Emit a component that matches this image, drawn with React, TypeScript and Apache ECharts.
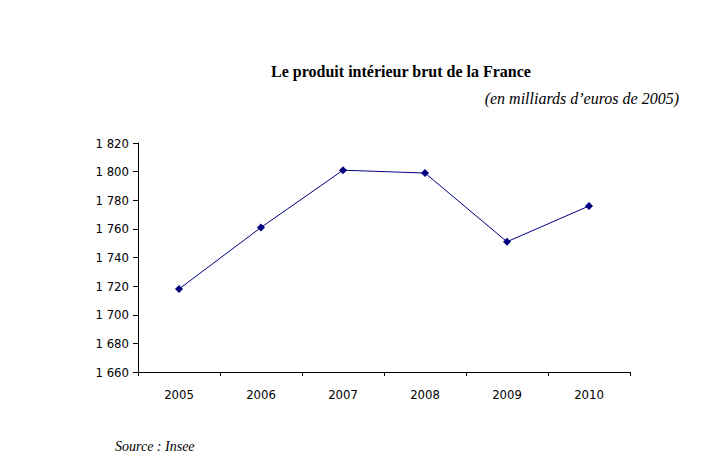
import React, { useEffect, useRef } from "react";
import * as echarts from "echarts";

const years = ["2005", "2006", "2007", "2008", "2009", "2010"];
const gdp = [1718, 1761, 1801, 1799, 1751, 1776];
const yMin = 1660;
const yMax = 1820;
const yStep = 20;

const fmt = (v: number) => {
  const s = String(Math.round(v));
  return s.length > 3 ? s.slice(0, s.length - 3) + " " + s.slice(-3) : s;
};

export default function App() {
  const ref = useRef<HTMLDivElement>(null);
  useEffect(() => {
    if (!ref.current) return;
    const chart = echarts.init(ref.current, undefined, { renderer: "svg" });
    chart.setOption({
      animation: false,
      backgroundColor: "#ffffff",
      title: [
        {
          text: "Le produit intérieur brut de la France",
          left: 396,
          textAlign: "center",
          top: 58,
          textStyle: {
            fontFamily: "Liberation Serif",
            fontWeight: "bold",
            fontSize: 16,
            color: "#000",
          },
        },
        {
          text: "(en milliards d’euros de 2005)",
          right: 26,
          top: 85,
          textStyle: {
            fontFamily: "Liberation Serif",
            fontStyle: "italic",
            fontWeight: "normal",
            fontSize: 16,
            color: "#000",
          },
        },
        {
          text: "Source : Insee",
          left: 110,
          top: 434,
          textStyle: {
            fontFamily: "Liberation Serif",
            fontStyle: "italic",
            fontWeight: "normal",
            fontSize: 14,
            color: "#000",
          },
        },
      ],
      grid: { left: 138, right: 80, top: 143, bottom: 104, containLabel: false },
      xAxis: {
        type: "category",
        data: years,
        boundaryGap: true,
        axisLine: { lineStyle: { color: "#000", width: 1 } },
        axisTick: { show: true, length: 4, lineStyle: { color: "#000" } },
        axisLabel: {
          color: "#000",
          fontFamily: "DejaVu Sans Condensed",
          fontSize: 13,
          margin: 16,
        },
      },
      yAxis: {
        type: "value",
        min: yMin,
        max: yMax,
        interval: yStep,
        axisLine: { show: true, lineStyle: { color: "#000", width: 1 } },
        axisTick: { show: true, length: 5, lineStyle: { color: "#000" } },
        splitLine: { show: false },
        axisLabel: {
          color: "#000",
          fontFamily: "DejaVu Sans Condensed",
          fontSize: 13,
          margin: 9,
          formatter: (v: number) => fmt(v),
        },
      },
      series: [
        {
          type: "line",
          data: gdp,
          symbol: "diamond",
          symbolSize: 8,
          lineStyle: { color: "#000080", width: 1 },
          itemStyle: { color: "#000080" },
        },
      ],
    });
    return () => chart.dispose();
  }, []);
  return <div ref={ref} style={{ width: 710, height: 476, position: "absolute", left: 0, top: 0 }} />;
}
